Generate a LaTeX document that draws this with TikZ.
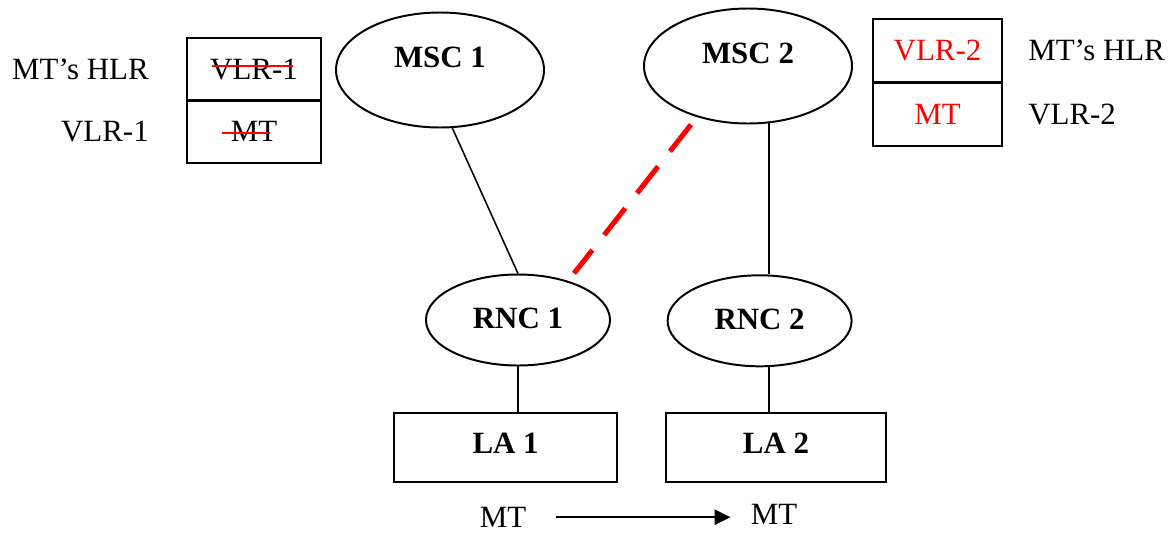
\documentclass[tikz,border=0pt]{standalone}
\usepackage{fontspec}
\setmainfont{Liberation Serif}
\usepackage{tikz}
\usetikzlibrary{shapes,arrows.meta,positioning,calc}
\definecolor{moved}{RGB}{255, 0, 0}
\newcommand{\diagfont}{\fontsize{22pt}{26pt}\selectfont}

\begin{document}
\begin{tikzpicture}[
    font=\diagfont,
    station/.style={
        ellipse,
        draw,
        line width=1.4pt,
        inner sep=0pt,
        minimum width=5.2cm,
        minimum height=2.875cm,
        font=\diagfont\bfseries,
        text height=0.55cm,
        text depth=0.7cm
    },
    rnc/.style={
        ellipse,
        draw,
        line width=1.4pt,
        inner sep=0pt,
        minimum width=4.6cm,
        minimum height=2.275cm,
        font=\diagfont\bfseries,
        text height=0.55cm,
        text depth=0.12cm
    },
    area/.style={
        rectangle,
        draw,
        line width=1.6pt,
        minimum width=5.575cm,
        minimum height=1.725cm,
        font=\diagfont\bfseries,
        text height=0.55cm,
        text depth=0.24cm
    },
    cell/.style={
        rectangle,
        draw,
        line width=1.6pt,
        outer sep=0pt,
        minimum width=3.35cm,
        minimum height=1.56cm,
        font=\diagfont
    },
    newcell/.style={cell, minimum width=3.225cm, minimum height=1.5875cm, text=moved},
    tag/.style={inner sep=0pt, font=\diagfont},
    link/.style={line width=1.1pt},
    handover/.style={line width=3.6pt, moved, dash pattern=on 0.85cm off 0.48cm,
        shorten <=0.24cm, shorten >=0.24cm},
    strike/.style={line width=1.4pt, moved},
    arrow/.style={-{Triangle[length=0.4cm,width=0.38cm]}, line width=1.3pt}
]
    \useasboundingbox (0,0) rectangle (29.3,-13.3);

    % Network nodes
    \node[station] (msc1) at (11.0,-1.75) {MSC 1};
    \node[station] (msc2) at (18.7,-1.65) {MSC 2};
    \node[rnc] (rnc1) at (12.95,-8.0) {RNC 1};
    \node[rnc] (rnc2) at (18.99,-8.02) {RNC 2};
    \node[area] (la1) at (12.64,-11.19) {LA 1};
    \node[area, minimum width=5.5cm] (la2) at (19.4,-11.19) {LA 2};

    % Links
    \draw[link] (msc1.-78) -- (rnc1.north);
    \draw[link] (msc2.-70) -- (msc2.-70 |- rnc2.north);
    \draw[link] (rnc1.south) -- (rnc1.south |- la1.north);
    \draw[link] (msc2.-70 |- rnc2.south) -- (msc2.-70 |- la2.north);
    \draw[handover] (msc2.-135) -- (rnc1.38);

    % Old location record
    \node[cell] (oldhlr) at (6.35,-1.73) {VLR-1};
    \node[cell, below=0pt of oldhlr] (oldvlr) {MT};
    \draw[strike] ($(oldhlr.center)+(-1.05,0.08)$) -- ($(oldhlr.center)+(0.975,0.08)$);
    \draw[strike] ($(oldvlr.center)+(-0.8,-0.03)$) -- ($(oldvlr.center)+(0.4,-0.03)$);
    \node[tag, left=0.95cm of oldhlr] {MT's HLR};
    \node[tag, left=0.95cm of oldvlr] {VLR-1};

    % New location record
    \node[newcell] (newhlr) at (23.4375,-1.269) {VLR-2};
    \node[newcell, below=0pt of newhlr] (newvlr) {MT};
    \node[tag, right=0.65cm of newhlr] {MT's HLR};
    \node[tag, right=0.65cm of newvlr] {VLR-2};

    % Movement
    \node[tag] (mtold) at (12.575,-12.93) {MT};
    \node[tag] (mtnew) at (19.35,-12.86) {MT};
    \draw[arrow, shorten <=0.75cm, shorten >=0.5cm] (mtold.east) -- (mtold.east -| mtnew.west);
\end{tikzpicture}
\end{document}
